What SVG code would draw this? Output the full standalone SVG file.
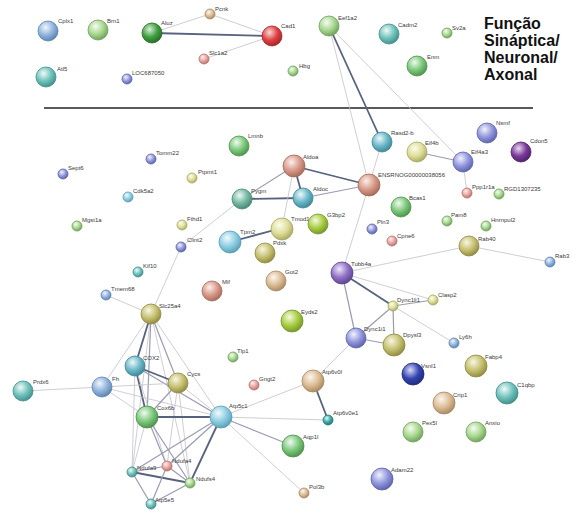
<svg xmlns="http://www.w3.org/2000/svg" width="572" height="511" viewBox="0 0 572 511">
<defs>
<radialGradient id="gLBlue" cx="0.38" cy="0.32" r="0.72"><stop offset="0" stop-color="#f2f6fc"/><stop offset="0.55" stop-color="#8fb4dc"/><stop offset="1" stop-color="#5a80ae"/></radialGradient>
<radialGradient id="gSky" cx="0.38" cy="0.32" r="0.72"><stop offset="0" stop-color="#f2fafd"/><stop offset="0.55" stop-color="#8ccde2"/><stop offset="1" stop-color="#5a9cb4"/></radialGradient>
<radialGradient id="gTeal" cx="0.38" cy="0.32" r="0.72"><stop offset="0" stop-color="#effaf8"/><stop offset="0.55" stop-color="#6fc2bc"/><stop offset="1" stop-color="#3f8c88"/></radialGradient>
<radialGradient id="gCyan" cx="0.38" cy="0.32" r="0.72"><stop offset="0" stop-color="#eef8fa"/><stop offset="0.55" stop-color="#6ab8c8"/><stop offset="1" stop-color="#3c8494"/></radialGradient>
<radialGradient id="gTG" cx="0.38" cy="0.32" r="0.72"><stop offset="0" stop-color="#eef8f4"/><stop offset="0.55" stop-color="#74b8a4"/><stop offset="1" stop-color="#468472"/></radialGradient>
<radialGradient id="gDTeal" cx="0.38" cy="0.32" r="0.72"><stop offset="0" stop-color="#e0f6f6"/><stop offset="0.55" stop-color="#3aa8a8"/><stop offset="1" stop-color="#227474"/></radialGradient>
<radialGradient id="gGreen" cx="0.38" cy="0.32" r="0.72"><stop offset="0" stop-color="#f0faf0"/><stop offset="0.55" stop-color="#7cc87c"/><stop offset="1" stop-color="#4a904a"/></radialGradient>
<radialGradient id="gDGreen" cx="0.38" cy="0.32" r="0.72"><stop offset="0" stop-color="#d8f0d8"/><stop offset="0.55" stop-color="#3f9f3f"/><stop offset="1" stop-color="#266a26"/></radialGradient>
<radialGradient id="gLGreen" cx="0.38" cy="0.32" r="0.72"><stop offset="0" stop-color="#f6fcf2"/><stop offset="0.55" stop-color="#a8d890"/><stop offset="1" stop-color="#6c9e58"/></radialGradient>
<radialGradient id="gYellow" cx="0.38" cy="0.32" r="0.72"><stop offset="0" stop-color="#fcfcf0"/><stop offset="0.55" stop-color="#dede98"/><stop offset="1" stop-color="#a6a662"/></radialGradient>
<radialGradient id="gOlive" cx="0.38" cy="0.32" r="0.72"><stop offset="0" stop-color="#f8f6e4"/><stop offset="0.55" stop-color="#c6c070"/><stop offset="1" stop-color="#8e8840"/></radialGradient>
<radialGradient id="gYG" cx="0.38" cy="0.32" r="0.72"><stop offset="0" stop-color="#f4fae0"/><stop offset="0.55" stop-color="#a8cc40"/><stop offset="1" stop-color="#72942a"/></radialGradient>
<radialGradient id="gTan" cx="0.38" cy="0.32" r="0.72"><stop offset="0" stop-color="#fcf6ee"/><stop offset="0.55" stop-color="#dcbc94"/><stop offset="1" stop-color="#a68660"/></radialGradient>
<radialGradient id="gSalmon" cx="0.38" cy="0.32" r="0.72"><stop offset="0" stop-color="#fbefec"/><stop offset="0.55" stop-color="#d89a88"/><stop offset="1" stop-color="#a46858"/></radialGradient>
<radialGradient id="gPink" cx="0.38" cy="0.32" r="0.72"><stop offset="0" stop-color="#fdf0ef"/><stop offset="0.55" stop-color="#e8a4a0"/><stop offset="1" stop-color="#b47068"/></radialGradient>
<radialGradient id="gRed" cx="0.38" cy="0.32" r="0.72"><stop offset="0" stop-color="#fbdada"/><stop offset="0.55" stop-color="#e04040"/><stop offset="1" stop-color="#a02424"/></radialGradient>
<radialGradient id="gLav" cx="0.38" cy="0.32" r="0.72"><stop offset="0" stop-color="#f2f2fc"/><stop offset="0.55" stop-color="#9096dc"/><stop offset="1" stop-color="#5a60a8"/></radialGradient>
<radialGradient id="gPurple" cx="0.38" cy="0.32" r="0.72"><stop offset="0" stop-color="#eee6f8"/><stop offset="0.55" stop-color="#9070c4"/><stop offset="1" stop-color="#5c4290"/></radialGradient>
<radialGradient id="gDPurple" cx="0.38" cy="0.32" r="0.72"><stop offset="0" stop-color="#e8d8f0"/><stop offset="0.55" stop-color="#7a3a9a"/><stop offset="1" stop-color="#4c1e68"/></radialGradient>
<radialGradient id="gDBlue" cx="0.38" cy="0.32" r="0.72"><stop offset="0" stop-color="#d8dcf6"/><stop offset="0.55" stop-color="#3444b0"/><stop offset="1" stop-color="#1e2a78"/></radialGradient>
</defs>
<style>
.n{stroke-width:0.8}
.lb{fill:#3a3a3a;font-family:"Liberation Sans",Arial,sans-serif;font-size:6px}
.tt{fill:#111;font-family:"Liberation Sans",Arial,sans-serif;font-size:16px;font-weight:bold}
.e1{stroke:#c2c2ca;stroke-width:0.8;fill:none}
.e2{stroke:#9a9cb0;stroke-width:1.2;fill:none}
.e3{stroke:#58627e;stroke-width:1.8;fill:none}
.cLBlue{fill:url(#gLBlue);stroke:#5a80ae}
.cSky{fill:url(#gSky);stroke:#5a9cb4}
.cTeal{fill:url(#gTeal);stroke:#3f8c88}
.cCyan{fill:url(#gCyan);stroke:#3c8494}
.cTG{fill:url(#gTG);stroke:#468472}
.cDTeal{fill:url(#gDTeal);stroke:#227474}
.cGreen{fill:url(#gGreen);stroke:#4a904a}
.cDGreen{fill:url(#gDGreen);stroke:#266a26}
.cLGreen{fill:url(#gLGreen);stroke:#6c9e58}
.cYellow{fill:url(#gYellow);stroke:#a6a662}
.cOlive{fill:url(#gOlive);stroke:#8e8840}
.cYG{fill:url(#gYG);stroke:#72942a}
.cTan{fill:url(#gTan);stroke:#a68660}
.cSalmon{fill:url(#gSalmon);stroke:#a46858}
.cPink{fill:url(#gPink);stroke:#b47068}
.cRed{fill:url(#gRed);stroke:#a02424}
.cLav{fill:url(#gLav);stroke:#5a60a8}
.cPurple{fill:url(#gPurple);stroke:#5c4290}
.cDPurple{fill:url(#gDPurple);stroke:#4c1e68}
.cDBlue{fill:url(#gDBlue);stroke:#1e2a78}
</style>
<rect width="572" height="511" fill="#ffffff"/>
<g id="title">
<text class="tt" x="484" y="29">Função</text>
<text class="tt" x="484" y="46">Sináptica/</text>
<text class="tt" x="484" y="63">Neuronal/</text>
<text class="tt" x="484" y="80">Axonal</text>
</g>
<line id="divider" x1="44" y1="108" x2="533" y2="108" stroke="#222" stroke-width="1.5"/>
<g id="edges">
<line class="e3" x1="152" y1="33" x2="272" y2="36"/>
<line class="e1" x1="152" y1="33" x2="210" y2="14"/>
<line class="e1" x1="210" y1="14" x2="272" y2="36"/>
<line class="e1" x1="204" y1="59" x2="272" y2="36"/>
<line class="e3" x1="329" y1="26" x2="382" y2="142"/>
<line class="e1" x1="329" y1="26" x2="369" y2="185"/>
<line class="e1" x1="329" y1="26" x2="463" y2="162"/>
<line class="e1" x1="382" y1="142" x2="369" y2="185"/>
<line class="e2" x1="417" y1="152" x2="463" y2="162"/>
<line class="e1" x1="463" y1="162" x2="467" y2="193"/>
<line class="e2" x1="294" y1="166" x2="242" y2="199"/>
<line class="e3" x1="294" y1="166" x2="303" y2="198"/>
<line class="e3" x1="242" y1="199" x2="303" y2="198"/>
<line class="e3" x1="294" y1="166" x2="369" y2="185"/>
<line class="e2" x1="303" y1="198" x2="369" y2="185"/>
<line class="e1" x1="294" y1="166" x2="282" y2="228"/>
<line class="e1" x1="242" y1="199" x2="181" y2="247"/>
<line class="e3" x1="230" y1="242" x2="282" y2="228"/>
<line class="e1" x1="369" y1="185" x2="342" y2="273"/>
<line class="e1" x1="181" y1="247" x2="151" y2="314"/>
<line class="e1" x1="106" y1="295" x2="151" y2="314"/>
<line class="e1" x1="342" y1="273" x2="469" y2="246"/>
<line class="e1" x1="469" y1="246" x2="550" y2="262"/>
<line class="e1" x1="342" y1="273" x2="433" y2="300"/>
<line class="e3" x1="342" y1="273" x2="393" y2="306"/>
<line class="e2" x1="342" y1="273" x2="356" y2="338"/>
<line class="e2" x1="393" y1="306" x2="433" y2="300"/>
<line class="e2" x1="393" y1="306" x2="394" y2="345"/>
<line class="e1" x1="393" y1="306" x2="454" y2="343"/>
<line class="e2" x1="393" y1="306" x2="356" y2="338"/>
<line class="e2" x1="356" y1="338" x2="394" y2="345"/>
<line class="e1" x1="356" y1="338" x2="313" y2="381"/>
<line class="e3" x1="313" y1="381" x2="328" y2="420"/>
<line class="e1" x1="313" y1="381" x2="221" y2="417"/>
<line class="e1" x1="221" y1="417" x2="328" y2="420"/>
<line class="e2" x1="221" y1="417" x2="293" y2="446"/>
<line class="e1" x1="221" y1="417" x2="304" y2="493"/>
<line class="e1" x1="23" y1="391" x2="102" y2="387"/>
<line class="e3" x1="151" y1="314" x2="135" y2="366"/>
<line class="e2" x1="151" y1="314" x2="147" y2="417"/>
<line class="e2" x1="151" y1="314" x2="178" y2="383"/>
<line class="e1" x1="151" y1="314" x2="102" y2="387"/>
<line class="e1" x1="151" y1="314" x2="221" y2="417"/>
<line class="e1" x1="151" y1="314" x2="132" y2="472"/>
<line class="e1" x1="151" y1="314" x2="190" y2="483"/>
<line class="e3" x1="135" y1="366" x2="178" y2="383"/>
<line class="e3" x1="135" y1="366" x2="147" y2="417"/>
<line class="e2" x1="135" y1="366" x2="221" y2="417"/>
<line class="e1" x1="135" y1="366" x2="132" y2="472"/>
<line class="e1" x1="135" y1="366" x2="167" y2="466"/>
<line class="e1" x1="102" y1="387" x2="178" y2="383"/>
<line class="e1" x1="102" y1="387" x2="221" y2="417"/>
<line class="e1" x1="102" y1="387" x2="147" y2="417"/>
<line class="e2" x1="178" y1="383" x2="147" y2="417"/>
<line class="e1" x1="178" y1="383" x2="221" y2="417"/>
<line class="e1" x1="178" y1="383" x2="167" y2="466"/>
<line class="e1" x1="178" y1="383" x2="190" y2="483"/>
<line class="e3" x1="147" y1="417" x2="221" y2="417"/>
<line class="e2" x1="147" y1="417" x2="167" y2="466"/>
<line class="e2" x1="147" y1="417" x2="190" y2="483"/>
<line class="e1" x1="147" y1="417" x2="132" y2="472"/>
<line class="e3" x1="221" y1="417" x2="190" y2="483"/>
<line class="e2" x1="221" y1="417" x2="167" y2="466"/>
<line class="e2" x1="221" y1="417" x2="132" y2="472"/>
<line class="e2" x1="132" y1="472" x2="167" y2="466"/>
<line class="e3" x1="132" y1="472" x2="190" y2="483"/>
<line class="e2" x1="132" y1="472" x2="151" y2="504"/>
<line class="e2" x1="167" y1="466" x2="190" y2="483"/>
<line class="e2" x1="167" y1="466" x2="151" y2="504"/>
<line class="e2" x1="190" y1="483" x2="151" y2="504"/>
</g>
<g id="n-Cplx1"><circle class="n cLBlue" cx="48" cy="31" r="10"/><text class="lb" x="58" y="23">Cplx1</text></g>
<g id="n-Brn1"><circle class="n cLGreen" cx="98" cy="30" r="10"/><text class="lb" x="107" y="23">Brn1</text></g>
<g id="n-Aluz"><circle class="n cDGreen" cx="152" cy="33" r="10"/><text class="lb" x="161" y="25">Aluz</text></g>
<g id="n-Pcnk"><circle class="n cTan" cx="210" cy="14" r="5"/><text class="lb" x="215" y="11">Pcnk</text></g>
<g id="n-Cad1"><circle class="n cRed" cx="272" cy="36" r="10"/><text class="lb" x="281" y="28">Cad1</text></g>
<g id="n-Slc1a2"><circle class="n cPink" cx="204" cy="59" r="5"/><text class="lb" x="209" y="55">Slc1a2</text></g>
<g id="n-Hbg"><circle class="n cLGreen" cx="293" cy="71" r="5"/><text class="lb" x="299" y="68">Hbg</text></g>
<g id="n-Eef1a2"><circle class="n cLGreen" cx="329" cy="26" r="10"/><text class="lb" x="338" y="20">Eef1a2</text></g>
<g id="n-Cadm2"><circle class="n cTeal" cx="389" cy="34" r="10"/><text class="lb" x="398" y="27">Cadm2</text></g>
<g id="n-Sv2a"><circle class="n cLGreen" cx="447" cy="33" r="5"/><text class="lb" x="452" y="30">Sv2a</text></g>
<g id="n-Enm"><circle class="n cGreen" cx="417" cy="66" r="10"/><text class="lb" x="427" y="59">Enm</text></g>
<g id="n-Atl5"><circle class="n cTeal" cx="46" cy="77" r="10"/><text class="lb" x="57" y="71">Atl5</text></g>
<g id="n-LOC687050"><circle class="n cLav" cx="127" cy="79" r="5"/><text class="lb" x="132" y="75">LOC687050</text></g>
<g id="n-Lmnb"><circle class="n cGreen" cx="239" cy="146" r="10"/><text class="lb" x="248" y="138">Lmnb</text></g>
<g id="n-Aldoa"><circle class="n cSalmon" cx="294" cy="166" r="11"/><text class="lb" x="303" y="159">Aldoa</text></g>
<g id="n-Aldoc"><circle class="n cCyan" cx="303" cy="198" r="10"/><text class="lb" x="313" y="191">Aldoc</text></g>
<g id="n-Pygm"><circle class="n cTG" cx="242" cy="199" r="10"/><text class="lb" x="251" y="193">Pygm</text></g>
<g id="n-ENSRNOG00000038056"><circle class="n cSalmon" cx="369" cy="185" r="11"/><text class="lb" x="378" y="177">ENSRNOG00000038056</text></g>
<g id="n-Rasd2-b"><circle class="n cCyan" cx="382" cy="142" r="10"/><text class="lb" x="391" y="135">Rasd2-b</text></g>
<g id="n-Eif4b"><circle class="n cYellow" cx="417" cy="152" r="10"/><text class="lb" x="425" y="145">Eif4b</text></g>
<g id="n-Eif4a3"><circle class="n cLav" cx="463" cy="162" r="10"/><text class="lb" x="471" y="154">Eif4a3</text></g>
<g id="n-Nsmf"><circle class="n cLav" cx="487" cy="133" r="10"/><text class="lb" x="496" y="125">Nsmf</text></g>
<g id="n-Cdon5"><circle class="n cDPurple" cx="521" cy="152" r="10"/><text class="lb" x="530" y="143">Cdon5</text></g>
<g id="n-Ppp1r1a"><circle class="n cPink" cx="467" cy="193" r="5"/><text class="lb" x="472" y="189">Ppp1r1a</text></g>
<g id="n-RGD1307235"><circle class="n cLGreen" cx="499" cy="194" r="5"/><text class="lb" x="504" y="191">RGD1307235</text></g>
<g id="n-Bcas1"><circle class="n cGreen" cx="401" cy="207" r="10"/><text class="lb" x="409" y="200">Bcas1</text></g>
<g id="n-Pam8"><circle class="n cLGreen" cx="447" cy="221" r="5"/><text class="lb" x="451" y="217">Pam8</text></g>
<g id="n-Hnrnpul2"><circle class="n cLGreen" cx="486" cy="226" r="5"/><text class="lb" x="491" y="222">Hnrnpul2</text></g>
<g id="n-Pln3"><circle class="n cLav" cx="372" cy="229" r="5"/><text class="lb" x="377" y="224">Pln3</text></g>
<g id="n-Cpne6"><circle class="n cPink" cx="392" cy="241" r="5"/><text class="lb" x="397" y="238">Cpne6</text></g>
<g id="n-Rab40"><circle class="n cOlive" cx="469" cy="246" r="10"/><text class="lb" x="478" y="241">Rab40</text></g>
<g id="n-Tomm22"><circle class="n cLav" cx="151" cy="159" r="5"/><text class="lb" x="156" y="155">Tomm22</text></g>
<g id="n-Sept6"><circle class="n cLav" cx="63" cy="174" r="5"/><text class="lb" x="68" y="170">Sept6</text></g>
<g id="n-Cdk5a2"><circle class="n cSky" cx="128" cy="197" r="5"/><text class="lb" x="133" y="193">Cdk5a2</text></g>
<g id="n-Mgst1a"><circle class="n cLGreen" cx="77" cy="226" r="5"/><text class="lb" x="82" y="222">Mgst1a</text></g>
<g id="n-Ptpmt1"><circle class="n cYellow" cx="192" cy="178" r="5"/><text class="lb" x="198" y="174">Ptpmt1</text></g>
<g id="n-Fthd1"><circle class="n cYellow" cx="182" cy="225" r="5"/><text class="lb" x="187" y="221">Fthd1</text></g>
<g id="n-Clint2"><circle class="n cLav" cx="181" cy="247" r="5"/><text class="lb" x="187" y="242">Clint2</text></g>
<g id="n-Tpm2"><circle class="n cSky" cx="230" cy="242" r="11"/><text class="lb" x="240" y="234">Tpm2</text></g>
<g id="n-Pdxk"><circle class="n cOlive" cx="265" cy="253" r="10"/><text class="lb" x="273" y="245">Pdxk</text></g>
<g id="n-Tmod1"><circle class="n cYellow" cx="282" cy="229" r="11"/><text class="lb" x="291" y="221">Tmod1</text></g>
<g id="n-G3bp2"><circle class="n cYG" cx="318" cy="224" r="10"/><text class="lb" x="327" y="217">G3bp2</text></g>
<g id="n-Kif10"><circle class="n cTeal" cx="138" cy="272" r="5"/><text class="lb" x="143" y="268">Kif10</text></g>
<g id="n-Tmem68"><circle class="n cLBlue" cx="106" cy="295" r="5"/><text class="lb" x="111" y="291">Tmem68</text></g>
<g id="n-Slc25a4"><circle class="n cOlive" cx="151" cy="314" r="10"/><text class="lb" x="159" y="308">Slc25a4</text></g>
<g id="n-COX2"><circle class="n cCyan" cx="135" cy="366" r="10"/><text class="lb" x="143" y="360">COX2</text></g>
<g id="n-Cycs"><circle class="n cOlive" cx="178" cy="383" r="10"/><text class="lb" x="187" y="376">Cycs</text></g>
<g id="n-Fh"><circle class="n cLBlue" cx="102" cy="387" r="10"/><text class="lb" x="112" y="381">Fh</text></g>
<g id="n-Prdx6"><circle class="n cTeal" cx="23" cy="391" r="10"/><text class="lb" x="33" y="384">Prdx6</text></g>
<g id="n-Cox6b"><circle class="n cGreen" cx="147" cy="417" r="11"/><text class="lb" x="157" y="410">Cox6b</text></g>
<g id="n-Ndufa4"><circle class="n cPink" cx="167" cy="466" r="5"/><text class="lb" x="172" y="463">Ndufa4</text></g>
<g id="n-Ndufa9"><circle class="n cTeal" cx="132" cy="472" r="5"/><text class="lb" x="137" y="470">Ndufa9</text></g>
<g id="n-Ndufs4"><circle class="n cLGreen" cx="190" cy="483" r="5"/><text class="lb" x="196" y="481">Ndufs4</text></g>
<g id="n-Atp5e5"><circle class="n cTeal" cx="151" cy="504" r="5"/><text class="lb" x="155" y="502">Atp5e5</text></g>
<g id="n-Atp5c1"><circle class="n cSky" cx="221" cy="417" r="11"/><text class="lb" x="229" y="408">Atp5c1</text></g>
<g id="n-Gngt2"><circle class="n cPink" cx="254" cy="385" r="5"/><text class="lb" x="259" y="381">Gngt2</text></g>
<g id="n-Atp6v0l"><circle class="n cTan" cx="313" cy="381" r="11"/><text class="lb" x="322" y="374">Atp6v0l</text></g>
<g id="n-Atp6v0e1"><circle class="n cDTeal" cx="328" cy="420" r="5"/><text class="lb" x="333" y="415">Atp6v0e1</text></g>
<g id="n-Aqp1l"><circle class="n cGreen" cx="293" cy="446" r="11"/><text class="lb" x="303" y="439">Aqp1l</text></g>
<g id="n-Pol3b"><circle class="n cTan" cx="304" cy="493" r="5"/><text class="lb" x="309" y="489">Pol3b</text></g>
<g id="n-Tlp1"><circle class="n cLGreen" cx="233" cy="357" r="5"/><text class="lb" x="237" y="353">Tlp1</text></g>
<g id="n-Mif"><circle class="n cSalmon" cx="212" cy="291" r="10"/><text class="lb" x="222" y="284">Mif</text></g>
<g id="n-Got2"><circle class="n cTan" cx="276" cy="281" r="10"/><text class="lb" x="285" y="274">Got2</text></g>
<g id="n-Eyds2"><circle class="n cYG" cx="292" cy="321" r="11"/><text class="lb" x="301" y="314">Eyds2</text></g>
<g id="n-Tubb4a"><circle class="n cPurple" cx="342" cy="273" r="11"/><text class="lb" x="351" y="266">Tubb4a</text></g>
<g id="n-Dync1li1"><circle class="n cYellow" cx="393" cy="306" r="5"/><text class="lb" x="397" y="302">Dync1li1</text></g>
<g id="n-Clasp2"><circle class="n cYellow" cx="433" cy="300" r="5"/><text class="lb" x="438" y="297">Clasp2</text></g>
<g id="n-Dync1i1"><circle class="n cLav" cx="356" cy="338" r="10"/><text class="lb" x="364" y="331">Dync1i1</text></g>
<g id="n-Dpysl3"><circle class="n cOlive" cx="394" cy="345" r="11"/><text class="lb" x="403" y="337">Dpysl3</text></g>
<g id="n-Ly6h"><circle class="n cLBlue" cx="454" cy="343" r="5"/><text class="lb" x="459" y="339">Ly6h</text></g>
<g id="n-Rab3"><circle class="n cLBlue" cx="550" cy="262" r="5"/><text class="lb" x="555" y="258">Rab3</text></g>
<g id="n-Fabp4"><circle class="n cOlive" cx="476" cy="366" r="11"/><text class="lb" x="485" y="359">Fabp4</text></g>
<g id="n-Vsnl1"><circle class="n cDBlue" cx="413" cy="374" r="11"/><text class="lb" x="421" y="368">Vsnl1</text></g>
<g id="n-C1qbp"><circle class="n cTeal" cx="507" cy="393" r="11"/><text class="lb" x="517" y="387">C1qbp</text></g>
<g id="n-Crip1"><circle class="n cTan" cx="444" cy="403" r="11"/><text class="lb" x="453" y="397">Crip1</text></g>
<g id="n-Pex5l"><circle class="n cLGreen" cx="413" cy="432" r="10"/><text class="lb" x="422" y="425">Pex5l</text></g>
<g id="n-Anxio"><circle class="n cLGreen" cx="476" cy="432" r="10"/><text class="lb" x="485" y="425">Anxio</text></g>
<g id="n-Adam22"><circle class="n cLav" cx="382" cy="479" r="11"/><text class="lb" x="391" y="472">Adam22</text></g>
</svg>
